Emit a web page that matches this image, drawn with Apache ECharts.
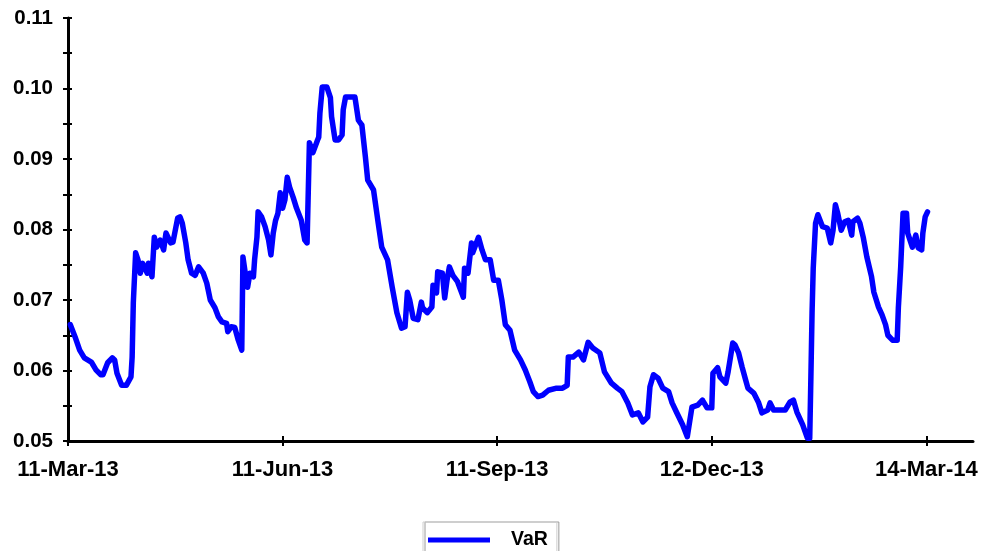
<!DOCTYPE html>
<html>
<head>
<meta charset="utf-8">
<title>VaR</title>
<script src="https://cdn.jsdelivr.net/npm/echarts@6/dist/echarts.min.js"></script>
<style>
  html, body { margin: 0; padding: 0; background: #fff; }
  #chart { width: 983px; height: 551px; }
</style>
</head>
<body>
<div id="chart"></div>
<script>
// Days elapsed since 11-Mar-2013 for each observation
const dayOffsets = [
  1, 3, 5, 7, 10, 12, 14, 15, 17, 19, 20, 21, 23, 25, 27,
  27.5, 28, 29, 30, 31, 32, 34, 34.5, 36, 36.5, 37, 38, 39.5, 41, 42, 44, 45, 47, 48,
  49, 50.5, 51.5, 53, 54.5, 56, 58, 59.5, 61, 63, 64.5, 66, 68, 68.5, 70, 71.5, 73, 74.5,
  75, 76, 77, 78, 79.5, 80, 81, 81.5, 83, 84.5, 86, 87, 88, 89, 90, 91, 92, 93, 94, 95, 96.5, 98, 100, 101.5, 102.5,
  103, 103.5, 105, 107, 107.5, 108, 109, 111, 112.5, 113, 114.5, 116, 117.5, 118, 119, 123, 124.5,
  126, 127.5, 128.5, 131, 133, 134.5, 137, 139, 141, 143, 144.5,
  145.5, 146.5, 148, 150, 151.5, 152, 154, 156, 156.5, 158, 158.5, 160.5, 161.5, 162.5, 163.5, 165, 167, 169.5, 170, 171.5,
  173, 173.5, 176, 177.5, 179, 181, 182.5, 184.5, 186, 187.5, 189.5, 191.5, 194, 196, 198, 199.5, 201.5, 203.5, 206, 209.5, 212, 214,
  214.5, 216.5, 219, 221, 223, 225, 228, 230, 233, 235.5, 237.5, 240, 242, 244.5, 246.5, 248.5,
  249.5, 251, 253, 255, 257.5, 259, 261, 263.5, 265.5, 266, 267.5, 270, 272, 274, 276,
  276.5, 278.5, 279.5, 282, 283, 285, 286, 287.5, 289, 290.5, 291.5, 294, 296, 297.5, 300, 301, 302.5, 304.5, 307.5, 309.5, 311, 312.5, 315, 317, 318,
  318.5, 319, 319.5, 320.5, 321.5, 323.5, 325.5, 327, 328, 329, 330, 331.5, 333, 334.5, 336, 336.5, 338.5, 339.5,
  341, 342.5, 344.5, 345.5, 347.5, 349, 350.5, 351.5, 353.5, 355.5, 356, 357, 357.5, 358, 359.5, 360, 362, 363.5, 364.5, 366, 366.5, 367.5, 368.5
];

// Value-at-Risk readings matching dayOffsets
const varValues = [
  0.0665, 0.0648, 0.0629, 0.0618, 0.0612, 0.0601, 0.0594, 0.0594, 0.0611, 0.0618, 0.0615, 0.0596, 0.0579, 0.0579, 0.0591,
  0.0619, 0.0696, 0.0767, 0.0757, 0.0738, 0.0752, 0.0738, 0.0752, 0.0733, 0.0761, 0.0789, 0.0775, 0.0785, 0.0771, 0.0795, 0.0781, 0.0782, 0.0816, 0.0818,
  0.0809, 0.0781, 0.0757, 0.0738, 0.0735, 0.0747, 0.0738, 0.0724, 0.0700, 0.0689, 0.0676, 0.0669, 0.0667, 0.0655, 0.0662, 0.0661, 0.0643, 0.0629,
  0.0761, 0.0738, 0.0718, 0.0738, 0.0733, 0.0757, 0.0789, 0.0825, 0.0818, 0.0804, 0.0785, 0.0764, 0.0795, 0.0813, 0.0823, 0.0852, 0.0830, 0.0842, 0.0874, 0.0860, 0.0846, 0.0830, 0.0813, 0.0785, 0.0781,
  0.0852, 0.0923, 0.0909, 0.0927, 0.0931, 0.0965, 0.1002, 0.1002, 0.0987, 0.0960, 0.0927, 0.0927, 0.0934, 0.0970, 0.0988, 0.0988, 0.0955,
  0.0948, 0.0903, 0.0870, 0.0856, 0.0809, 0.0775, 0.0757, 0.0718, 0.0682, 0.0660, 0.0662,
  0.0711, 0.0700, 0.0674, 0.0672, 0.0697, 0.0689, 0.0682, 0.0690, 0.0721, 0.0710, 0.0740, 0.0738, 0.0703, 0.0728, 0.0747, 0.0735, 0.0726, 0.0704, 0.0745, 0.0738,
  0.0781, 0.0767, 0.0789, 0.0771, 0.0757, 0.0757, 0.0728, 0.0728, 0.0700, 0.0665, 0.0657, 0.0629, 0.0615, 0.0601, 0.0584, 0.0570, 0.0563, 0.0565, 0.0572, 0.0575, 0.0575, 0.0579,
  0.0619, 0.0619, 0.0626, 0.0615, 0.0640, 0.0632, 0.0625, 0.0598, 0.0582, 0.0575, 0.0570, 0.0554, 0.0537, 0.0540, 0.0527, 0.0534,
  0.0577, 0.0594, 0.0589, 0.0575, 0.0570, 0.0554, 0.0540, 0.0523, 0.0506, 0.0505, 0.0548, 0.0551, 0.0558, 0.0547, 0.0547,
  0.0596, 0.0604, 0.0591, 0.0582, 0.0598, 0.0639, 0.0636, 0.0625, 0.0605, 0.0587, 0.0575, 0.0568, 0.0555, 0.0540, 0.0544, 0.0554, 0.0544, 0.0544, 0.0544, 0.0555, 0.0558, 0.0541, 0.0523, 0.0504, 0.0504,
  0.0591, 0.0682, 0.0745, 0.0809, 0.0821, 0.0804, 0.0802, 0.0781, 0.0799, 0.0835, 0.0823, 0.0799, 0.0811, 0.0813, 0.0792, 0.0811, 0.0816, 0.0809,
  0.0788, 0.0761, 0.0733, 0.0711, 0.0690, 0.0679, 0.0665, 0.0650, 0.0643, 0.0643, 0.0689, 0.0747, 0.0785, 0.0823, 0.0823, 0.0795, 0.0775, 0.0792, 0.0774, 0.0771, 0.0795, 0.0818, 0.0825
];

// Date axis ticks (days since 11-Mar-2013) and their labels
const tickDays = [0, 92, 184, 276, 368];
const tickLabels = ['11-Mar-13', '11-Jun-13', '11-Sep-13', '12-Dec-13', '14-Mar-14'];

const seriesName = 'VaR';
const yMin = 0.05, yMax = 0.11, yStep = 0.01;
const xMax = 388;

const points = dayOffsets.map((d, i) => [d, varValues[i]]);

const fontFamily = '"Liberation Sans", Arial, sans-serif';
const textBase = { color: '#000', fontFamily: fontFamily, fontWeight: 'bold' };

const chart = echarts.init(document.getElementById('chart'), null, { renderer: 'canvas' });

chart.setOption({
  animation: false,
  backgroundColor: '#fff',
  grid: { left: 68, right: 10, top: 18, bottom: 110, containLabel: false },
  legend: {
    data: [seriesName],
    left: 423,
    top: 522,
    padding: [8, 9, 10, 5],
    icon: 'rect',
    itemWidth: 62,
    itemHeight: 5,
    borderColor: '#cfcfcf',
    borderWidth: 1,
    shadowColor: '#9a9a9a',
    shadowOffsetX: 2,
    shadowBlur: 0,
    textStyle: Object.assign({}, textBase, { fontSize: 19.5, padding: [0, 0, 0, 16] })
  },
  xAxis: [
    {
      type: 'value',
      min: 0,
      max: xMax,
      position: 'bottom',
      axisLine: { show: true, onZero: false, lineStyle: { color: '#000', width: 3 } },
      axisTick: { show: true, inside: false, length: 5, customValues: tickDays, lineStyle: { color: '#000', width: 2 } },
      axisLabel: Object.assign({
        show: true,
        customValues: tickDays,
        margin: 18,
        fontSize: 22,
        formatter: v => { const k = tickDays.indexOf(Math.round(v)); return k >= 0 ? tickLabels[k] : ''; }
      }, textBase),
      splitLine: { show: false }
    },
    {
      type: 'value',
      min: 0,
      max: xMax,
      position: 'bottom',
      axisLine: { show: false, onZero: false },
      axisTick: { show: true, inside: true, length: 5, customValues: tickDays, lineStyle: { color: '#000', width: 2 } },
      axisLabel: { show: false },
      splitLine: { show: false }
    }
  ],
  yAxis: [
    {
      type: 'value',
      min: yMin,
      max: yMax,
      interval: yStep,
      position: 'left',
      axisLine: { show: true, onZero: false, lineStyle: { color: '#000', width: 3 } },
      axisTick: { show: true, inside: false, length: 5, lineStyle: { color: '#000', width: 2 } },
      minorTick: { show: true, splitNumber: 2, length: 5, lineStyle: { color: '#000', width: 2 } },
      axisLabel: Object.assign({
        margin: 15,
        fontSize: 20.5,
        formatter: v => v.toFixed(2)
      }, textBase),
      splitLine: { show: false }
    },
    {
      type: 'value',
      min: yMin,
      max: yMax,
      interval: yStep,
      position: 'left',
      offset: 0,
      axisLine: { show: false, onZero: false },
      axisTick: { show: true, inside: true, length: 4, lineStyle: { color: '#000', width: 2 } },
      minorTick: { show: true, splitNumber: 2, length: 4, lineStyle: { color: '#000', width: 2 } },
      axisLabel: { show: false },
      splitLine: { show: false }
    }
  ],
  series: [
    {
      name: seriesName,
      type: 'line',
      xAxisIndex: 0,
      yAxisIndex: 0,
      data: points,
      showSymbol: false,
      symbol: 'none',
      smooth: false,
      clip: false,
      color: '#0000ff',
      lineStyle: { color: '#0000ff', width: 5.5, join: 'round', cap: 'round' }
    }
  ]
});
</script>
</body>
</html>
